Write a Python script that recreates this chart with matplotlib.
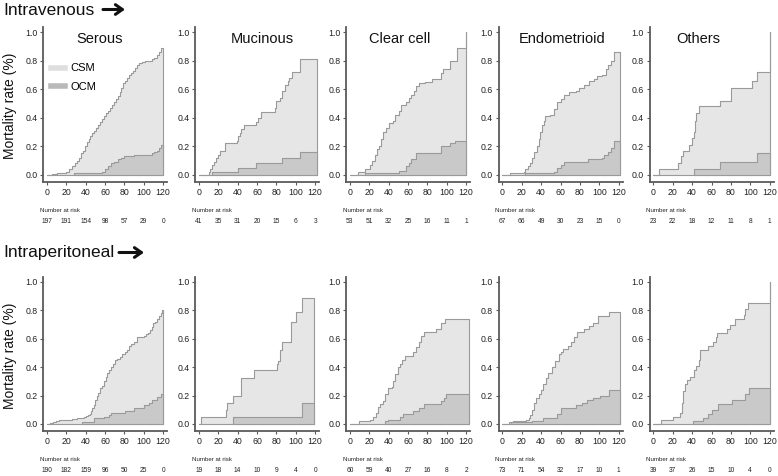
import matplotlib.pyplot as plt
from matplotlib.lines import Line2D
from matplotlib.patches import FancyArrowPatch
from matplotlib.ticker import FormatStrFormatter

plt.rcParams['font.family'] = ['Liberation Sans', 'DejaVu Sans']

routes = ['Intravenous', 'Intraperitoneal']
histologies = ['Serous', 'Mucinous', 'Clear cell', 'Endometrioid', 'Others']
risk_months = [0, 20, 40, 60, 80, 100, 120]

# ---- Intravenous ----
iv_serous_t = [0, 5, 10, 15, 20, 23, 26, 29, 31, 33, 35, 37, 39, 41, 43, 45, 47, 49, 51, 53,
               55, 57, 59, 61, 63, 65, 67, 69, 71, 73, 75, 77, 79, 81, 83, 85, 87, 89, 91, 93,
               95, 98, 101, 105, 108, 111, 114, 116, 118, 120]
iv_serous_csm = [0, 0.005, 0.01, 0.015, 0.02, 0.04, 0.06, 0.08, 0.10, 0.12, 0.15, 0.17, 0.20, 0.23,
                 0.25, 0.27, 0.29, 0.31, 0.33, 0.35, 0.37, 0.39, 0.41, 0.43, 0.45, 0.47, 0.49, 0.51,
                 0.53, 0.55, 0.58, 0.61, 0.64, 0.66, 0.68, 0.70, 0.71, 0.73, 0.75, 0.77, 0.78, 0.79,
                 0.80, 0.80, 0.81, 0.82, 0.84, 0.86, 0.89, 0.89]
iv_serous_ocm_t = [28, 57, 60, 63, 66, 69, 73, 77, 80, 90, 108, 111, 114, 116, 118, 120]
iv_serous_ocm = [0.01, 0.02, 0.04, 0.06, 0.08, 0.09, 0.11, 0.12, 0.13, 0.14, 0.15, 0.16, 0.17,
                 0.19, 0.21, 0.21]

iv_mucinous_t = [0, 10, 12, 14, 15.5, 17.5, 20, 22, 27, 39, 40, 42, 44, 47, 59, 61, 64, 79, 80,
                 84, 86, 88.5, 92, 93, 96, 104, 122]
iv_mucinous_csm = [0, 0.02, 0.04, 0.07, 0.09, 0.12, 0.14, 0.17, 0.22, 0.24, 0.27, 0.29, 0.32,
                   0.35, 0.37, 0.40, 0.44, 0.47, 0.52, 0.54, 0.59, 0.63, 0.66, 0.68, 0.72, 0.81,
                   0.81]
iv_mucinous_ocm_t = [14, 40, 59, 86, 104, 122]
iv_mucinous_ocm = [0.02, 0.05, 0.08, 0.12, 0.16, 0.16]

iv_clear_t = [0, 8.6, 15.4, 20.6, 23, 26, 28, 30, 32.6, 34, 37, 40.5, 44, 47, 50.7, 53, 58, 61,
              63, 66, 68.6, 71, 78, 85, 94, 96, 103, 111, 120]
iv_clear_csm = [0, 0.02, 0.04, 0.07, 0.10, 0.14, 0.18, 0.20, 0.25, 0.30, 0.33, 0.36, 0.38, 0.42,
                0.45, 0.49, 0.51, 0.54, 0.56, 0.59, 0.62, 0.64, 0.65, 0.67, 0.71, 0.74, 0.80,
                0.89, 1.0]
iv_clear_ocm_t = [15.4, 51, 58, 61, 63, 68.6, 94, 103, 108, 120]
iv_clear_ocm = [0.01, 0.03, 0.06, 0.08, 0.11, 0.15, 0.20, 0.22, 0.24, 0.24]

iv_endo_t = [0, 8, 22.5, 23.6, 26, 28, 30.5, 33, 36, 37.5, 39, 41, 42.7, 44.4, 49, 53, 56.5, 60,
             63.5, 68.7, 75.6, 79, 84, 89.5, 94.7, 98, 103, 107, 108.6, 112, 115.5, 121]
iv_endo_csm = [0, 0.01, 0.02, 0.04, 0.06, 0.08, 0.12, 0.16, 0.20, 0.25, 0.30, 0.35, 0.38, 0.41,
               0.42, 0.46, 0.51, 0.53, 0.56, 0.58, 0.59, 0.61, 0.63, 0.66, 0.67, 0.69, 0.70,
               0.74, 0.77, 0.80, 0.86, 0.86]
iv_endo_ocm_t = [23.6, 53, 56.5, 60, 64, 88, 103, 105, 108.6, 112, 115.5, 121]
iv_endo_ocm = [0.01, 0.02, 0.05, 0.07, 0.09, 0.11, 0.12, 0.14, 0.16, 0.19, 0.24, 0.24]

iv_others_t = [0, 6, 25, 29, 31, 37, 40, 41.5, 43, 44, 46.6, 68.7, 80, 102, 106.5, 120]
iv_others_csm = [0, 0.04, 0.08, 0.13, 0.17, 0.21, 0.26, 0.30, 0.38, 0.43, 0.48, 0.52, 0.61,
                 0.66, 0.72, 1.0]
iv_others_ocm_t = [42, 68.7, 106.5, 120]
iv_others_ocm = [0.04, 0.09, 0.15, 0.15]

# ---- Intraperitoneal ----
ip_serous_t = [0, 3, 6, 9, 12, 20, 26, 31, 35, 38, 40, 42, 44, 45.5, 47, 48.5, 50, 51.5, 53, 55,
               57, 59, 61, 62.5, 64, 66, 68, 70, 72, 75, 78, 81, 83, 85, 87, 90, 93, 97, 100,
               102, 104, 106, 108, 110, 112, 114, 116, 117.5, 119, 120]
ip_serous_csm = [0, 0.005, 0.01, 0.02, 0.025, 0.03, 0.035, 0.04, 0.045, 0.05, 0.055, 0.06, 0.07,
                 0.09, 0.11, 0.13, 0.17, 0.20, 0.22, 0.25, 0.27, 0.30, 0.33, 0.36, 0.38, 0.40,
                 0.42, 0.45, 0.46, 0.47, 0.49, 0.51, 0.52, 0.55, 0.56, 0.58, 0.61, 0.61, 0.62,
                 0.63, 0.64, 0.66, 0.68, 0.71, 0.72, 0.74, 0.76, 0.78, 0.80, 0.80]
ip_serous_ocm_t = [36, 48.4, 59, 64, 66, 81, 90, 100, 105.5, 109, 114, 117.6, 120]
ip_serous_ocm = [0.01, 0.04, 0.05, 0.06, 0.08, 0.09, 0.11, 0.13, 0.15, 0.17, 0.19, 0.21, 0.21]

ip_mucinous_t = [0, 2, 28, 29, 35.5, 43.4, 44, 57, 81, 82, 84, 86, 95, 100, 106, 119]
ip_mucinous_csm = [0, 0.05, 0.10, 0.15, 0.20, 0.26, 0.32, 0.38, 0.42, 0.44, 0.52, 0.58, 0.72,
                   0.79, 0.89, 0.89]
ip_mucinous_ocm_t = [35.5, 106, 119]
ip_mucinous_ocm = [0.05, 0.15, 0.15]

ip_clear_t = [0, 9.6, 21, 24, 27, 29, 31.5, 34, 36.7, 39.4, 43, 44.6, 47, 50, 51.4, 54, 56.6,
              65, 68.6, 71, 73.7, 77, 89, 94, 98.7, 123]
ip_clear_csm = [0, 0.02, 0.03, 0.05, 0.08, 0.12, 0.14, 0.16, 0.21, 0.25, 0.26, 0.30, 0.35, 0.40,
                0.42, 0.45, 0.48, 0.51, 0.54, 0.58, 0.62, 0.65, 0.67, 0.71, 0.74, 0.74]
ip_clear_ocm_t = [36.7, 39.4, 51.4, 55, 65, 71, 77, 94, 97, 99, 123]
ip_clear_ocm = [0.02, 0.03, 0.05, 0.07, 0.09, 0.11, 0.14, 0.16, 0.18, 0.21, 0.21]

ip_endo_t = [0, 7, 10.7, 24.5, 27, 29, 31, 33, 35, 38, 40, 42.4, 45, 47.6, 51, 54.5, 58, 60, 63,
             68, 71, 74, 77, 84, 89, 94, 99, 109.7, 121]
ip_endo_csm = [0, 0.01, 0.02, 0.03, 0.04, 0.06, 0.10, 0.15, 0.18, 0.21, 0.24, 0.28, 0.32, 0.36,
               0.40, 0.44, 0.49, 0.51, 0.53, 0.55, 0.58, 0.61, 0.65, 0.67, 0.69, 0.71, 0.76,
               0.79, 0.79]
ip_endo_ocm_t = [8.6, 31, 42.4, 56, 61, 76, 82, 87.6, 94, 101, 109.7, 121]
ip_endo_ocm = [0.01, 0.02, 0.04, 0.07, 0.11, 0.13, 0.15, 0.17, 0.18, 0.20, 0.24, 0.24]

ip_others_t = [0, 7.8, 20, 27, 29.6, 30.6, 32.3, 35, 37.4, 42, 44, 46.6, 48.6, 56, 62, 64.6, 66,
               76, 79, 84, 93.5, 95, 98, 120]
ip_others_csm = [0, 0.03, 0.05, 0.08, 0.15, 0.23, 0.28, 0.31, 0.33, 0.38, 0.41, 0.45, 0.52, 0.55,
                 0.58, 0.61, 0.64, 0.67, 0.70, 0.74, 0.77, 0.81, 0.85, 1.0]
ip_others_ocm_t = [41, 51, 56, 61, 67, 81.6, 95, 99, 120]
ip_others_ocm = [0.02, 0.04, 0.07, 0.10, 0.14, 0.17, 0.21, 0.25, 0.25]

# number at risk
iv_risk = [[197, 191, 154, 98, 57, 29, 0],
           [41, 35, 31, 20, 15, 6, 3],
           [53, 51, 32, 25, 16, 11, 1],
           [67, 66, 49, 30, 23, 15, 0],
           [23, 22, 18, 12, 11, 8, 1]]
ip_risk = [[190, 182, 159, 96, 50, 25, 0],
           [19, 18, 14, 10, 9, 4, 0],
           [60, 59, 40, 27, 16, 8, 2],
           [73, 71, 54, 32, 17, 10, 1],
           [39, 37, 26, 15, 10, 4, 0]]

panels = [
    [(iv_serous_t, iv_serous_csm, iv_serous_ocm_t, iv_serous_ocm),
     (iv_mucinous_t, iv_mucinous_csm, iv_mucinous_ocm_t, iv_mucinous_ocm),
     (iv_clear_t, iv_clear_csm, iv_clear_ocm_t, iv_clear_ocm),
     (iv_endo_t, iv_endo_csm, iv_endo_ocm_t, iv_endo_ocm),
     (iv_others_t, iv_others_csm, iv_others_ocm_t, iv_others_ocm)],
    [(ip_serous_t, ip_serous_csm, ip_serous_ocm_t, ip_serous_ocm),
     (ip_mucinous_t, ip_mucinous_csm, ip_mucinous_ocm_t, ip_mucinous_ocm),
     (ip_clear_t, ip_clear_csm, ip_clear_ocm_t, ip_clear_ocm),
     (ip_endo_t, ip_endo_csm, ip_endo_ocm_t, ip_endo_ocm),
     (ip_others_t, ip_others_csm, ip_others_ocm_t, ip_others_ocm)],
]
risks = [iv_risk, ip_risk]

light = '#e6e6e6'
dark = '#c9c9c9'
edge = '#9a9a9a'
spine_col = '#5a5a5a'

W, H = 778, 476
fig = plt.figure(figsize=(W / 100, H / 100), dpi=100)

lefts = [43, 195, 346, 498.5, 649.5]
ax_w = 124
row_top = [27, 277]
row_h = [155, 154]
title_x = [0.46, 0.54, 0.435, 0.51, 0.39]

for r in range(2):
    for c in range(5):
        ax = fig.add_axes([lefts[c] / W, 1 - (row_top[r] + row_h[r]) / H, ax_w / W, row_h[r] / H])
        t, csm, ot, ocm = panels[r][c]
        ax.fill_between(t, csm, step='post', facecolor=light, edgecolor=edge, lw=0.8)
        ax.fill_between(ot, ocm, step='post', facecolor=dark, edgecolor=edge, lw=0.8)
        ax.set_xlim(-4, 124)
        ax.set_ylim(-0.05, 1.035)
        ax.set_xticks(risk_months)
        ax.set_yticks([0, 0.2, 0.4, 0.6, 0.8, 1.0])
        ax.yaxis.set_major_formatter(FormatStrFormatter('%.1f'))
        for s in ['top', 'right']:
            ax.spines[s].set_visible(False)
        for s in ['left', 'bottom']:
            ax.spines[s].set_color(spine_col)
            ax.spines[s].set_linewidth(1.3)
        ax.tick_params(labelsize=6.3, length=2.5, width=0.8, pad=1.5,
                       color=spine_col, labelcolor='#222222')
        ax.patch.set_alpha(0)

        # number at risk
        ax.text(-7.5, -0.25, 'Number at risk', fontsize=4.4, ha='left', va='center',
                clip_on=False, color='#222222')
        for m, n in zip(risk_months, risks[r][c]):
            ax.text(m, -0.33, str(n), fontsize=4.8, ha='center', va='center',
                    clip_on=False, color='#222222')

        if r == 0:
            ax.text(title_x[c], 0.923, histologies[c], transform=ax.transAxes,
                    fontsize=10.5, ha='center', va='center', color='#111111')
        if r == 0 and c == 0:
            handles = [Line2D([], [], color='#dedede', lw=4),
                       Line2D([], [], color='#b9b9b9', lw=4)]
            ax.legend(handles, ['CSM', 'OCM'], loc='upper left', bbox_to_anchor=(0.062, 0.765),
                      frameon=False, fontsize=8, handlelength=1.3, handletextpad=0.5,
                      labelspacing=0.75, borderpad=0, borderaxespad=0)

# row titles with arrows and y labels
label_y = [106, 356]
title_base = [15, 257]
arrow_x = [(103, 125), (119, 144)]
arrow_y = [9.5, 252.5]
for r in range(2):
    fig.text(10 / W, 1 - label_y[r] / H, 'Mortality rate (%)', rotation=90, fontsize=10,
             ha='center', va='center', color='#111111')
    fig.text(3 / W, 1 - title_base[r] / H, routes[r], fontsize=12.5, ha='left',
             va='baseline', color='#111111')
    x0, x1 = arrow_x[r]
    fig.add_artist(FancyArrowPatch((x0 / W, 1 - arrow_y[r] / H), (x1 / W, 1 - arrow_y[r] / H),
                                   transform=fig.transFigure,
                                   arrowstyle='->,head_length=5,head_width=3.5',
                                   lw=2.2, color='#111111', shrinkA=0, shrinkB=0))

fig.savefig('out.png', dpi=100)
